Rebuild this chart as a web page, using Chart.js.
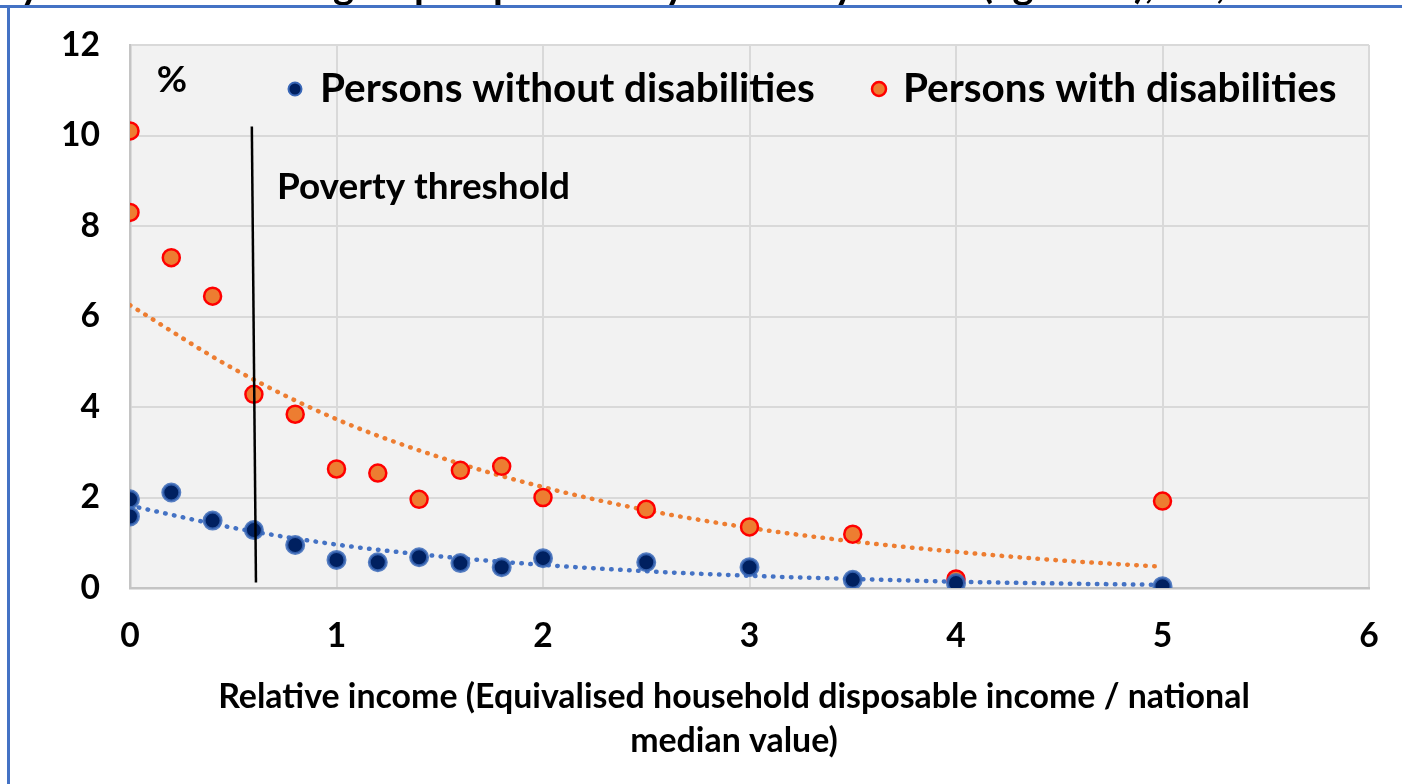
<!DOCTYPE html>
<html>
<head>
<meta charset="utf-8">
<script src="https://cdn.jsdelivr.net/npm/chart.js@4.4.1/dist/chart.umd.min.js"></script>
<style>
    body { margin: 0; background: #ffffff; }
    #grafico { display: block; }
</style>
</head>
<body>
<canvas id="grafico" width="1402" height="784"></canvas>
<script>
// valores
const x_pontos = [0, 0, 0.2, 0.4, 0.6, 0.8, 1, 1.2, 1.4, 1.6, 1.8, 2, 2.5, 3, 3.5, 4, 5]
const y_sem_deficiencia = [1.96, 1.58, 2.11, 1.49, 1.28, 0.95, 0.62, 0.57, 0.68, 0.55, 0.46, 0.66, 0.57, 0.46, 0.18, 0.11, 0.04]
const y_com_deficiencia = [10.1, 8.3, 7.3, 6.45, 4.28, 3.84, 2.63, 2.54, 1.96, 2.6, 2.69, 2.0, 1.74, 1.35, 1.19, 0.2, 1.92]

// linhas de tendencia (pontilhadas)
const x_tendencia = [0, 0.5, 1, 1.5, 2, 2.5, 3, 3.5, 4, 4.5, 5]
const y_tendencia_com = [6.25, 4.85, 3.73, 2.89, 2.23, 1.72, 1.33, 1.03, 0.80, 0.61, 0.47]
const y_tendencia_sem = [1.82, 1.33, 0.96, 0.70, 0.51, 0.37, 0.27, 0.20, 0.14, 0.10, 0.07]

// linha da pobreza
const x_limiar = [0.59, 0.61]
const y_limiar = [10.2, 0.12]

const x_ticks = [0, 1, 2, 3, 4, 5, 6]
const y_ticks = [0, 2, 4, 6, 8, 10, 12]

const nomes_series = ['Persons without disabilities', 'Persons with disabilities']
const titulo_eixo_x = ['Relative income (Equivalised household disposable income / national', 'median value)']
const texto_limiar = 'Poverty threshold'
const titulo_topo = 'y relative income group of persons by disability status (age 16+), EU, 2020'

const fonte = 'Lato, "Open Sans", sans-serif'

function pares(xs, ys) {
    let out = []
    for (let i = 0; i < xs.length; i++) {
        out.push({ x: xs[i], y: ys[i] })
    }
    return out
}

// acha o tamanho da fonte para caber numa largura
function tamanho_para(texto, largura) {
    const c = document.createElement('canvas').getContext('2d')
    c.font = 'bold 100px ' + fonte
    return 100 * largura / c.measureText(texto).width
}

const tam_legenda = tamanho_para(nomes_series[0], 495)
const tam_limiar = tamanho_para(texto_limiar, 293)
const tam_titulo_x = tamanho_para(titulo_eixo_x[0], 1032)
const tam_ticks = tamanho_para('10', 39)

// tira o espaco extra que o chart.js reserva pros rotulos
function zerar_padding(scale) {
    scale.paddingTop = 0
    scale.paddingBottom = 0
    scale.paddingLeft = 0
    scale.paddingRight = 0
}

const fundo_plugin = {
    id: 'fundo_plugin',
    beforeDraw(chart) {
        const ctx = chart.ctx
        const a = chart.chartArea
        ctx.save()
        ctx.fillStyle = '#ffffff'
        ctx.fillRect(0, 0, chart.width, chart.height)
        ctx.fillStyle = '#f2f2f2'
        ctx.fillRect(a.left, a.top, a.right - a.left, a.bottom - a.top)
        ctx.restore()
    },
    afterDraw(chart) {
        const ctx = chart.ctx
        ctx.save()
        ctx.fillStyle = '#000000'
        ctx.textBaseline = 'middle'
        ctx.textAlign = 'left'

        // legenda dentro da area
        ctx.font = 'bold ' + tam_legenda + 'px ' + fonte
        ctx.fillText(nomes_series[0], 320, 89)
        ctx.fillText(nomes_series[1], 903, 89)
        ctx.beginPath()
        ctx.arc(295, 89, 6.5, 0, Math.PI * 2)
        ctx.fillStyle = '#002060'
        ctx.fill()
        ctx.lineWidth = 2
        ctx.strokeStyle = '#3a68b8'
        ctx.stroke()
        ctx.beginPath()
        ctx.arc(879, 89, 7, 0, Math.PI * 2)
        ctx.fillStyle = '#ed7d31'
        ctx.fill()
        ctx.lineWidth = 2.5
        ctx.strokeStyle = '#ff0000'
        ctx.stroke()

        ctx.fillStyle = '#000000'
        ctx.font = 'bold ' + tam_ticks * 1.1 + 'px ' + fonte
        ctx.textAlign = 'center'
        ctx.fillText('%', 172, 80)

        ctx.textAlign = 'left'
        ctx.font = 'bold ' + tam_limiar + 'px ' + fonte
        ctx.fillText(texto_limiar, 277, 187)

        // titulo do eixo x
        ctx.textAlign = 'center'
        ctx.font = 'bold ' + tam_titulo_x + 'px ' + fonte
        ctx.fillText(titulo_eixo_x[0], 734, 697)
        ctx.fillText(titulo_eixo_x[1], 734, 741)

        // titulo cortado no topo
        ctx.textAlign = 'left'
        ctx.textBaseline = 'alphabetic'
        ctx.font = 'bold 40px ' + fonte
        ctx.fillText(titulo_topo, 20, -2)

        // moldura azul
        ctx.fillStyle = '#4472c4'
        ctx.fillRect(0, 5, chart.width, 3)
        ctx.fillRect(7, 5, 3, chart.height)
        ctx.restore()
    }
}

const data_grafico = {
    datasets: [
        {
            label: 'limiar',
            type: 'line',
            data: pares(x_limiar, y_limiar),
            borderColor: '#000000',
            borderWidth: 2.5,
            pointRadius: 0,
            order: 0
        },
        {
            label: nomes_series[0],
            data: pares(x_pontos, y_sem_deficiencia),
            backgroundColor: '#002060',
            borderColor: 'rgba(58, 104, 184, 0.85)',
            borderWidth: 3,
            pointRadius: 8.5,
            order: 1
        },
        {
            label: nomes_series[1],
            data: pares(x_pontos, y_com_deficiencia),
            backgroundColor: '#ed7d31',
            borderColor: '#ff0000',
            borderWidth: 2.5,
            pointRadius: 8.5,
            order: 1
        },
        {
            label: 'tendencia com',
            type: 'line',
            data: pares(x_tendencia, y_tendencia_com),
            borderColor: '#ed7d31',
            borderWidth: 4.5,
            borderDash: [0.5, 8.5],
            borderCapStyle: 'round',
            pointRadius: 0,
            cubicInterpolationMode: 'monotone',
            order: 2
        },
        {
            label: 'tendencia sem',
            type: 'line',
            data: pares(x_tendencia, y_tendencia_sem),
            borderColor: '#4472c4',
            borderWidth: 4.5,
            borderDash: [0.5, 8.5],
            borderCapStyle: 'round',
            pointRadius: 0,
            cubicInterpolationMode: 'monotone',
            order: 2
        }
    ]
}

const config_grafico = {
    type: 'scatter',
    data: data_grafico,
    options: {
        responsive: false,
        animation: false,
        layout: {
            padding: { top: 45, right: 33, left: 0, bottom: 0 }
        },
        plugins: {
            legend: { display: false },
            tooltip: { enabled: false }
        },
        scales: {
            x: {
                type: 'linear',
                min: 0,
                max: 6,
                afterBuildTicks(scale) {
                    scale.ticks = x_ticks.map(v => ({ value: v }))
                },
                afterFit(scale) {
                    scale.height = 784 - 588
                    zerar_padding(scale)
                },
                grid: { color: '#d9d9d9', lineWidth: 2, drawTicks: false },
                border: { color: '#c4c4c4', width: 2.5 },
                ticks: {
                    color: '#000000',
                    padding: 28,
                    font: { family: fonte, size: tam_ticks, weight: 'bold' }
                }
            },
            y: {
                type: 'linear',
                min: 0,
                max: 12,
                afterBuildTicks(scale) {
                    scale.ticks = y_ticks.map(v => ({ value: v }))
                },
                afterFit(scale) {
                    scale.width = 130
                    zerar_padding(scale)
                },
                grid: { color: '#d9d9d9', lineWidth: 2, drawTicks: false },
                border: { color: '#c4c4c4', width: 2.5 },
                ticks: {
                    color: '#000000',
                    padding: 30,
                    font: { family: fonte, size: tam_ticks, weight: 'bold' }
                }
            }
        }
    },
    plugins: [fundo_plugin]
}

const ctx_grafico = document.getElementById('grafico')
new Chart(ctx_grafico, config_grafico)
</script>
</body>
</html>
